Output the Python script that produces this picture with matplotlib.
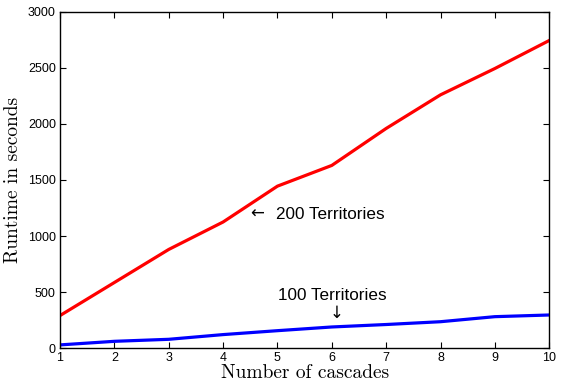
import matplotlib
matplotlib.use("Agg")
import matplotlib.pyplot as plt

# data
cascades = [1, 2, 3, 4, 5, 6, 7, 8, 9, 10]
t200 = [290, 585, 880, 1125, 1445, 1630, 1960, 2260, 2495, 2745]
t100 = [28, 60, 78, 120, 155, 188, 210, 235, 280, 295]
yticks = [0, 500, 1000, 1500, 2000, 2500, 3000]

plt.rcParams['font.family'] = ['Liberation Sans', 'DejaVu Sans']

fig = plt.figure(figsize=(5.61, 3.85), dpi=100)
ax = fig.add_axes([0.107, 0.096, 0.872, 0.873])

ax.plot(cascades, t200, color='#ff0000', lw=2.3)
ax.plot(cascades, t100, color='#0000ff', lw=2.3)

ax.set_xlim(1, 10)
ax.set_ylim(0, 3000)
ax.set_xticks(cascades)
ax.set_yticks(yticks)
ax.tick_params(direction='in', top=True, right=True, labelsize=9, length=4, pad=3)
for s in ax.spines.values():
    s.set_linewidth(1.0)

ax.set_xlabel('Number of cascades', family='cmr10', fontsize=14, labelpad=0)
ax.set_ylabel('Runtime in seconds', family='cmr10', fontsize=14, labelpad=4)

# labels with arrows
ax.text(4.5, 1195, '\u2190', fontsize=12, va='center', ha='left', family='DejaVu Sans')
ax.text(4.98, 1195, '200 Territories', fontsize=12.3, va='center', ha='left')
ax.text(6.01, 470, '100 Territories', fontsize=12.3, va='center', ha='center')
ax.text(6.08, 315, '\u2193', fontsize=12, va='center', ha='center', family='DejaVu Sans')

fig.savefig('out.png', dpi=100)
